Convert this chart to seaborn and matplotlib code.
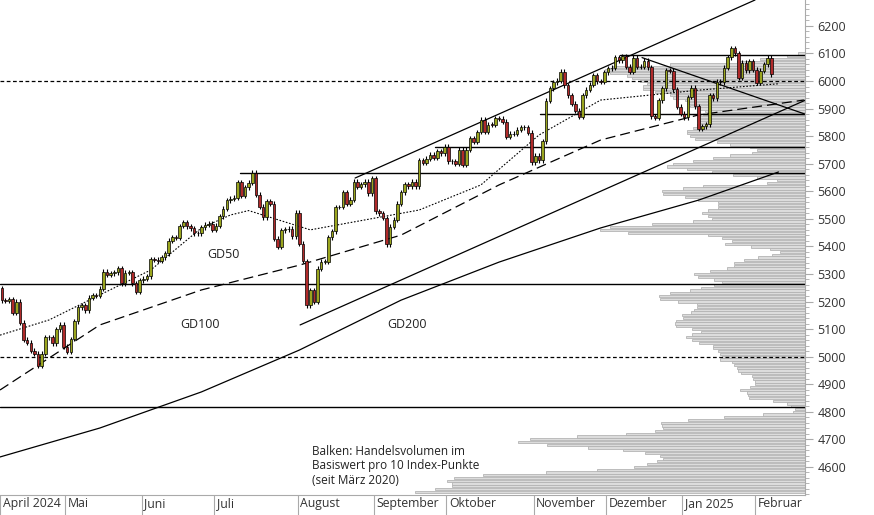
import numpy as np
import matplotlib
matplotlib.use("Agg")
import matplotlib.pyplot as plt
import seaborn as sns

months = ["April 2024", "Mai", "Juni", "Juli", "August", "September", "Oktober",
          "November", "Dezember", "Jan 2025", "Februar"]
closes_by_month = [
    [5204,5202,5209,5160,5199,5123,5061,5051,5022,5011,4967,5010,5070,5071,5048,5100,5116,5036],
    [5018,5064,5128,5180,5187,5168,5214,5223,5221,5247,5308,5297,5303,5307,5321,5267,5304,5306,5266,5235,5278],
    [5283,5291,5354,5352,5347,5360,5375,5421,5433,5431,5474,5487,5473,5465,5448,5447,5469,5478,5483,5460],
    [5475,5509,5537,5568,5573,5577,5633,5584,5615,5631,5667,5588,5544,5505,5564,5555,5427,5399,5459,5463,5464,5436,5522],
    [5410,5347,5186,5240,5199,5319,5344,5344,5434,5455,5543,5543,5597,5554,5570,5634,5616,5626,5634,5592,5648],
    [5528,5520,5503,5408,5471,5496,5554,5596,5626,5618,5634,5618,5713,5703,5718,5732,5722,5746,5738,5762],
    [5709,5709,5699,5751,5696,5751,5792,5780,5815,5859,5815,5842,5841,5865,5864,5853,5797,5809,5808,5823,5833,5832,5813,5705],
    [5729,5712,5782,5929,5973,5995,6001,6034,5985,5949,5917,5893,5870,5948,5969,5987,6021,5999,5998,6032],
    [6047,6049,6087,6075,6090,6052,6034,6085,6051,6051,6074,6050,5872,5867,5930,5974,6040,6037,5970,5906,5881],
    [5869,5942,5975,5909,5827,5836,5843,5949,5937,5997,5996,6049,6086,6119,6101,6012,6067,6039,6071,6041],
    [5994,6037,6061,6084,6025],
]
first_open = 5248

# moving averages (day index, level)
gd50_idx = [-0.5, 13, 27, 41, 55, 63, 68, 85, 115, 132, 148, 165, 192, 214]
gd50_val = [5078, 5133, 5224, 5314, 5467, 5514, 5530, 5460, 5532, 5623, 5804, 5931, 5967, 5990]
gd100_idx = [-0.5, 27, 55, 82, 110, 137, 165, 192, 221]
gd100_val = [4879, 5115, 5242, 5332, 5441, 5623, 5786, 5877, 5931]
gd200_idx = [-0.5, 27, 55, 82, 110, 137, 165, 192, 214]
gd200_val = [4636, 4741, 4872, 5024, 5205, 5343, 5467, 5568, 5670]

# volume profile (10-point bins from 4510), relative lengths
vol_start = 4510
vol_len = [390,370,353,353,358,351,322,259,208,171,158,148,142,145,160,182,217,258,287,275,228,179,150,142,143,144,117,81,42,12,10,14,
           18,32,56,57,58,65,55,50,50,52,53,64,67,68,71,73,85,83,85,87,92,92,106,113,119,113,104,113,129,130,129,122,123,114,111,108,108,127,145,146,135,115,104,91,83,91,107,111,95,78,71,71,61,47,33,25,35,54,
           80,73,83,97,177,205,195,153,112,93,97,103,97,87,87,87,107,120,142,143,122,102,38,28,48,72,93,118,138,132,112,92,75,53,48,55,75,88,110,115,118,118,112,108,107,105,107,102,100,105,115,117,120,132,135,150,162,162,158,165,173,178,195,200,192,135,68,45,18,7]

sns.set_style("white")
plt.rcParams['font.family'] = ['Open Sans', 'DejaVu Sans']

fig = plt.figure(figsize=(8.74, 5.15), dpi=100)
ax = fig.add_axes([0, 20/515, 805/874, 495/515])
axv = ax.twiny()
axv.set_zorder(ax.get_zorder() - 1)
ax.patch.set_visible(False)

closes = [c for m in closes_by_month for c in m]
n = len(closes)
opens = [first_open] + closes[:-1]
idx = np.arange(n)
ymin, ymax = 4498, 6294
xmax = 221.3
ax.set_xlim(-0.5, xmax)
ax.set_ylim(ymin, ymax)

# volume profile
vol_bins = [vol_start + 10 * k for k in range(len(vol_len))]
axv.barh(vol_bins, vol_len, height=8, align='center',
         color='#dcdcdc', edgecolor='#b4b4b4', linewidth=0.6)
axv.set_xlim(805, 0)
axv.set_ylim(ymin, ymax)
axv.set_xticks([])
for s in axv.spines.values():
    s.set_visible(False)

def px(x):
    return (x - 67) / 3.63 + 18

# horizontal lines
for lvl, start in [(6095, 620), (5880, 540), (5762, 435), (5667, 240)]:
    ax.plot([px(start), xmax], [lvl, lvl], color='black', lw=1)
for lvl in [5265, 4818]:
    ax.axhline(lvl, color='black', lw=1)
for lvl in [6000, 5000]:
    ax.axhline(lvl, color='black', lw=0.9, ls=(0, (3, 2)))

# trend lines
ax.plot([px(355), px(755)], [5648, 6294], color='black', lw=0.9)
ax.plot([px(300), px(805)], [5115, 5930], color='black', lw=0.9)
ax.plot([px(642), px(805)], [6085, 5880], color='black', lw=0.9)

# moving averages
sns.lineplot(x=gd50_idx, y=gd50_val, ax=ax, color='black', lw=0.8, linestyle=(0, (1.5, 1.5)))
sns.lineplot(x=gd100_idx, y=gd100_val, ax=ax, color='black', lw=0.9, linestyle=(0, (8, 4)))
sns.lineplot(x=gd200_idx, y=gd200_val, ax=ax, color='black', lw=0.9)

# candles
for i, o, c in zip(idx, opens, closes):
    hi = max(o, c) + 9
    lo = min(o, c) - 9
    ax.vlines(i, lo, hi, color='black', lw=0.8, zorder=3)
    col = '#9aa51e' if c >= o else '#b02a2a'
    h = max(abs(c - o), 1.5)
    ax.bar(i, h, bottom=min(o, c), width=0.7, color=col, edgecolor='black', linewidth=0.5, zorder=4)

ax.text(px(207), 5372, "GD50", fontsize=9, color='#222', va='center')
ax.text(px(180), 5115, "GD100", fontsize=9, color='#222', va='center')
ax.text(px(387), 5115, "GD200", fontsize=9, color='#222', va='center')
ax.text(px(312), 4538, "Balken: Handelsvolumen im\nBasiswert pro 10 Index-Punkte\n(seit März 2020)",
        fontsize=8.5, color='#222', linespacing=1.15)

# axes
ax.yaxis.tick_right()
ax.set_yticks(range(4600, 6201, 100))
ax.set_yticks(range(4500, 6300, 20), minor=True)
ax.tick_params(axis='y', which='major', length=6, color='#aaaaaa', labelsize=9, labelcolor='#333', pad=3, right=True)
ax.tick_params(axis='y', which='minor', length=3, color='#aaaaaa', right=True)
starts = np.cumsum([0] + [len(m) for m in closes_by_month[:-1]])
ax.set_xticks([s - 0.5 for s in starts])
ax.set_xticklabels([])
ax.tick_params(axis='x', length=20, color='#aaaaaa', bottom=True)
for s, lab in zip(starts, months):
    ax.text(s + 0.2, ymin - 8, lab, fontsize=8.8, color='#333', ha='left', va='top', clip_on=False)
for k, s in ax.spines.items():
    s.set_visible(False)
ax.spines['right'].set_visible(True)
ax.spines['right'].set_color('#aaaaaa')
ax.spines['bottom'].set_visible(True)
ax.spines['bottom'].set_color('#aaaaaa')
ax.set_xlabel("")
ax.set_ylabel("")

fig.savefig("out.png", dpi=100)
